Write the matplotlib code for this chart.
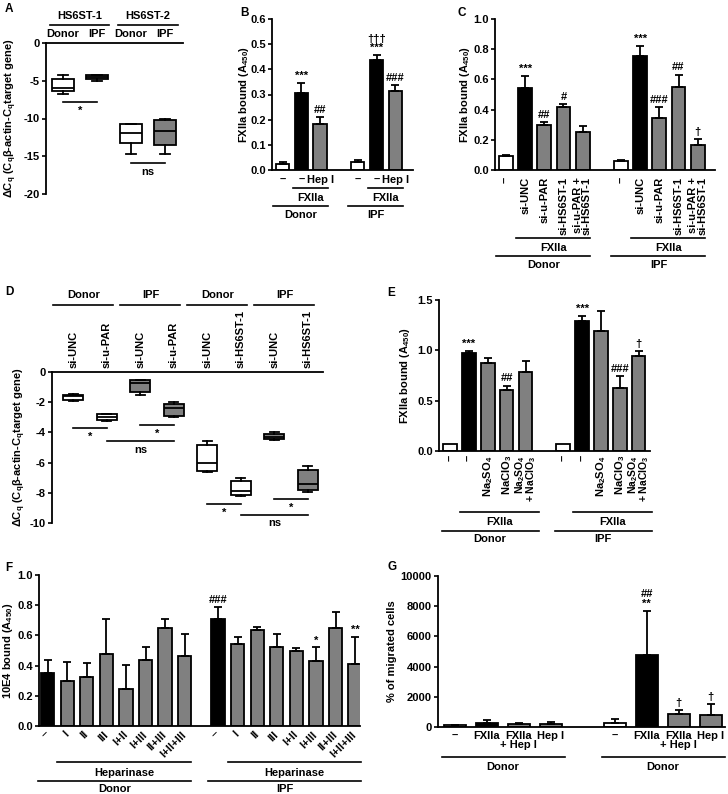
import numpy as np
import matplotlib
matplotlib.use('Agg')
import matplotlib.pyplot as plt

plt.rcParams.update({
    'font.family': ['Liberation Sans', 'DejaVu Sans'],
    'font.weight': 'bold',
    'axes.labelweight': 'bold',
    'font.size': 8,
    'axes.linewidth': 1.3,
    'axes.unicode_minus': False,
    'mathtext.fontset': 'custom',
    'mathtext.rm': 'Liberation Sans:bold',
    'mathtext.it': 'Liberation Sans:bold',
    'mathtext.bf': 'Liberation Sans:bold',
    'mathtext.default': 'rm',
})

# ---- data ----
# A: box plots, HS6ST-1 / HS6ST-2 expression
a_groups = ['HS6ST-1', 'HS6ST-2']
a_labels = ['Donor', 'IPF', 'Donor', 'IPF']
a_lo = [-6.8, -5.0, -14.7, -14.7]
a_q1 = [-6.3, -4.8, -13.3, -13.5]
a_med = [-5.9, -4.5, -11.9, -11.6]
a_q3 = [-4.8, -4.25, -10.75, -10.2]
a_hi = [-4.3, -4.2, -10.75, -10.0]

# B: FXIIa bound, Hep I
b_labels = ['–', '–', 'Hep I', '–', '–', 'Hep I']
b_vals = [0.024, 0.305, 0.184, 0.030, 0.437, 0.312]
b_errs = [0.006, 0.040, 0.027, 0.008, 0.019, 0.025]
b_marks = ['', '***', '##', '', '†††\n***', '###']

# C: FXIIa bound, siRNA
c_labels = ['–', 'si-UNC', 'si-u-PAR', 'si-HS6ST-1', 'si-u-PAR +\nsi-HS6ST-1'] * 2
c_vals = [0.09, 0.54, 0.30, 0.414, 0.25, 0.06, 0.753, 0.343, 0.548, 0.167]
c_errs = [0.007, 0.08, 0.02, 0.021, 0.04, 0.004, 0.067, 0.073, 0.084, 0.038]
c_marks = ['', '***', '##', '#', '', '', '***', '###', '##', '†']

# D: box plots, knock-down efficiency
d_groups = ['Donor', 'IPF', 'Donor', 'IPF']
d_labels = ['si-UNC', 'si-u-PAR', 'si-UNC', 'si-u-PAR',
            'si-UNC', 'si-HS6ST-1', 'si-UNC', 'si-HS6ST-1']
d_lo = [-1.9, -3.25, -1.5, -2.97, -6.65, -8.2, -4.5, -7.95]
d_q1 = [-1.85, -3.2, -1.35, -2.9, -6.55, -8.15, -4.45, -7.8]
d_med = [-1.6, -2.95, -0.75, -2.4, -6.0, -7.85, -4.3, -7.45]
d_q3 = [-1.5, -2.8, -0.55, -2.1, -4.85, -7.2, -4.1, -6.5]
d_hi = [-1.45, -2.75, -0.5, -2.0, -4.55, -7.0, -4.0, -6.2]

# E: FXIIa bound, sulfation inhibitors
e_labels = ['–', '–', 'Na$_2$SO$_4$', 'NaClO$_3$', 'Na$_2$SO$_4$\n+ NaClO$_3$'] * 2
e_vals = [0.07, 0.97, 0.87, 0.61, 0.78, 0.07, 1.29, 1.19, 0.63, 0.94]
e_errs = [0.0, 0.02, 0.05, 0.04, 0.11, 0.0, 0.05, 0.20, 0.115, 0.05]
e_marks = ['', '***', '', '##', '', '', '***', '', '###', '†']

# F: 10E4 bound, heparinases
f_labels = ['–', 'I', 'II', 'III', 'I+II', 'I+III', 'II+III', 'I+II+III']
f_donor = [0.35, 0.30, 0.327, 0.48, 0.245, 0.44, 0.65, 0.466]
f_donor_err = [0.09, 0.124, 0.093, 0.23, 0.159, 0.085, 0.06, 0.141]
f_ipf = [0.71, 0.54, 0.636, 0.523, 0.495, 0.43, 0.652, 0.41]
f_ipf_err = [0.08, 0.05, 0.022, 0.084, 0.022, 0.09, 0.103, 0.177]
f_ipf_marks = ['###', '', '', '', '', '*', '', '**']

# G: migration
g_labels = ['–', 'FXIIa', 'FXIIa\n+ Hep I', 'Hep I']
g_first = [100, 270, 180, 220]
g_first_err = [40, 170, 60, 120]
g_second = [290, 4800, 860, 820]
g_second_err = [220, 2900, 240, 710]
g_second_marks = ['', '##\n**', '†', '†']

# ---- layout helpers (pixel boxes) ----
W, H = 728, 794
fig = plt.figure(figsize=(W / 100, H / 100), dpi=100)
px = {}


def make_ax(x0, y0, x1, y1):
    ax = fig.add_axes([x0 / W, 1 - y1 / H, (x1 - x0) / W, (y1 - y0) / H])
    px[ax] = (x0, y0, x1, y1)
    return ax


def yfrac(ax, ypx):
    x0, y0, x1, y1 = px[ax]
    return (y1 - ypx) / (y1 - y0)


def ylabel_at(ax, text, xpx):
    # xpx: right edge of the rotated label, in figure pixels
    x0, y0, x1, y1 = px[ax]
    ax.set_ylabel(text)
    ax.yaxis.set_label_coords((xpx - x0) / (x1 - x0), 0.5)


def gline(ax, x0, x1, ypx):
    y = yfrac(ax, ypx)
    ax.plot([x0, x1], [y, y], transform=ax.get_xaxis_transform(),
            color='k', lw=1.2, clip_on=False)


def gtext(ax, x, ypx, s):
    ax.text(x, yfrac(ax, ypx), s, transform=ax.get_xaxis_transform(),
            ha='center', va='center')


def style(ax):
    for s in ['top', 'right']:
        ax.spines[s].set_visible(False)
    ax.tick_params(axis='x', length=0)
    ax.tick_params(axis='y', length=3, width=1.2, pad=1.5)


def bars(ax, pos, vals, errs, fills, width, marks=None):
    pos = np.asarray(pos, float)
    vals = np.asarray(vals, float)
    errs = np.asarray(errs, float)
    ax.bar(pos, vals, width=width, color=fills, edgecolor='k', linewidth=1.3, zorder=2)
    m = errs > 0
    ax.errorbar(pos[m], vals[m], yerr=[np.zeros(m.sum()), errs[m]], fmt='none',
                ecolor='k', elinewidth=1.3, capsize=3, capthick=1.3, zorder=3)
    if marks:
        for p, v, e, t in zip(pos, vals, errs, marks):
            if t:
                ax.annotate(t, (p, v + e), xytext=(0, 1.5), textcoords='offset points',
                            ha='center', va='bottom', linespacing=0.95)


def boxes(ax, pos, lo, q1, med, q3, hi, fills, width):
    stats = [dict(whislo=a, q1=b, med=c, q3=d, whishi=e, fliers=[])
             for a, b, c, d, e in zip(lo, q1, med, q3, hi)]
    bp = ax.bxp(stats, positions=pos, widths=width, patch_artist=True,
                showfliers=False, capwidths=width * 0.45,
                boxprops=dict(lw=1.3, edgecolor='k'),
                medianprops=dict(color='k', lw=1.3),
                whiskerprops=dict(lw=1.3), capprops=dict(lw=1.3))
    for p, c in zip(bp['boxes'], fills):
        p.set_facecolor(c)


def sig(ax, x0, x1, y, text, drop):
    ax.plot([x0, x1], [y, y], color='k', lw=1.2, clip_on=False)
    ax.text((x0 + x1) / 2, y - drop, text, ha='center', va='top')


W_, K_, G_ = 'white', 'black', '#808080'
dcq_label = 'ΔC$_q$ (C$_q$β-actin-C$_q$target gene)'
fx_label = 'FXIIa bound (A$_{450}$)'

# ---- A ----
ax = make_ax(46, 43, 183, 194)
pos = np.arange(1, 5)
boxes(ax, pos, a_lo, a_q1, a_med, a_q3, a_hi, [W_, G_, W_, G_], 0.67)
ax.set_xlim(0.5, 4.53)
ax.set_ylim(-20, 0)
ax.spines['bottom'].set_visible(False)
ax.spines['right'].set_visible(False)
ax.xaxis.tick_top()
ax.set_xticks(pos)
ax.set_xticklabels(a_labels)
ax.tick_params(axis='x', length=0, pad=3)
ax.tick_params(axis='y', length=3, width=1.2, pad=1.5)
ax.set_yticks([-20, -15, -10, -5, 0])
ylabel_at(ax, dcq_label, 19)
gline(ax, 0.62, 2.35, 25)
gline(ax, 2.62, 4.38, 25)
gtext(ax, 1.5, 16, a_groups[0])
gtext(ax, 3.5, 16, a_groups[1])
sig(ax, 1, 2, -7.8, '*', 0.5)
sig(ax, 3, 4, -15.9, 'ns', 0.5)

# ---- B ----
ax = make_ax(272, 19, 413, 170)
style(ax)
pos = [0, 1, 2, 4, 5, 6]
bars(ax, pos, b_vals, b_errs, [W_, K_, G_, W_, K_, G_], 0.72, b_marks)
ax.set_xlim(-0.56, 6.94)
ax.set_ylim(0, 0.6)
ax.set_yticks(np.arange(0, 0.61, 0.1))
ax.set_yticklabels([f'{v:.1f}' for v in np.arange(0, 0.61, 0.1)])
ax.set_xticks(pos)
ax.set_xticklabels(b_labels)
ylabel_at(ax, fx_label, 251)
for off, name in [(0, 'Donor'), (4, 'IPF')]:
    gline(ax, off + 0.55, off + 2.4, 188)
    gtext(ax, off + 1.5, 198, 'FXIIa')
    gline(ax, off - 0.5, off + 2.4, 206)
    gtext(ax, off + 0.95, 215, name)

# ---- C ----
ax = make_ax(495, 19, 715, 170)
style(ax)
pos = [0, 1, 2, 3, 4, 6, 7, 8, 9, 10]
bars(ax, pos, c_vals, c_errs, [W_, K_, G_, G_, G_] * 2, 0.72, c_marks)
ax.set_xlim(-0.57, 10.9)
ax.set_ylim(0, 1.0)
ax.set_yticks(np.arange(0, 1.01, 0.2))
ax.set_yticklabels([f'{v:.1f}' for v in np.arange(0, 1.01, 0.2)])
ax.set_xticks(pos)
ax.set_xticklabels(c_labels, rotation=90, va='top', ha='center', multialignment='right')
for t in ax.get_xticklabels():
    t.set_linespacing(0.85)
ax.tick_params(axis='x', pad=5)
ylabel_at(ax, fx_label, 472)
for off, name in [(0, 'Donor'), (6, 'IPF')]:
    gline(ax, off + 0.5, off + 4.4, 238)
    gtext(ax, off + 2.5, 248, 'FXIIa')
    gline(ax, off - 0.5, off + 4.4, 256)
    gtext(ax, off + 1.95, 265, name)

# ---- D ----
ax = make_ax(52, 372, 323, 523)
pos = np.arange(1, 9)
boxes(ax, pos, d_lo, d_q1, d_med, d_q3, d_hi, [W_, W_, G_, G_, W_, W_, G_, G_], 0.6)
ax.set_xlim(0.36, 8.45)
ax.set_ylim(-10, 0)
ax.spines['bottom'].set_visible(False)
ax.spines['right'].set_visible(False)
ax.xaxis.tick_top()
ax.set_xticks(pos)
ax.set_xticklabels(d_labels, rotation=90)
ax.tick_params(axis='x', length=0, pad=3)
ax.tick_params(axis='y', length=3, width=1.2, pad=1.5)
ax.set_yticks(np.arange(-10, 1, 2))
ylabel_at(ax, dcq_label, 28)
for i, name in enumerate(d_groups):
    x0 = 1 + 2 * i
    gline(ax, x0 - 0.61, x0 + 1.18, 305)
    gtext(ax, x0 + 0.3, 295, name)
sig(ax, 1, 2, -3.7, '*', 0.25)
sig(ax, 3, 4, -3.5, '*', 0.25)
sig(ax, 2, 4, -4.6, 'ns', 0.25)
sig(ax, 5, 6, -8.75, '*', 0.25)
sig(ax, 7, 8, -8.4, '*', 0.25)
sig(ax, 6, 8, -9.45, 'ns', 0.25)

# ---- E ----
ax = make_ax(439, 300, 650, 451)
style(ax)
pos = [0, 1, 2, 3, 4, 6, 7, 8, 9, 10]
bars(ax, pos, e_vals, e_errs, [W_, K_, G_, G_, G_] * 2, 0.72, e_marks)
ax.set_xlim(-0.59, 10.6)
ax.set_ylim(0, 1.5)
ax.set_yticks([0, 0.5, 1.0, 1.5])
ax.set_yticklabels(['0.0', '0.5', '1.0', '1.5'])
ax.set_xticks(pos)
ax.set_xticklabels(e_labels, rotation=90, va='top', ha='center', multialignment='right')
for t in ax.get_xticklabels():
    if '\n' in t.get_text():
        t.set_linespacing(0.7)
        t.set_fontsize(7.5)
ax.tick_params(axis='x', pad=3)
ylabel_at(ax, fx_label, 412)
for off, name in [(0, 'Donor'), (6, 'IPF')]:
    gline(ax, off + 0.5, off + 4.7, 512)
    gtext(ax, off + 2.6, 522, 'FXIIa')
    gline(ax, off - 0.45, off + 4.7, 531)
    gtext(ax, off + 2.1, 539, name)

# ---- F ----
ax = make_ax(39, 575, 360, 726)
style(ax)
pos1 = np.arange(8)
pos2 = pos1 + 8.7
bars(ax, pos1, f_donor, f_donor_err, [K_] + [G_] * 7, 0.68)
bars(ax, pos2, f_ipf, f_ipf_err, [K_] + [G_] * 7, 0.68, f_ipf_marks)
ax.set_xlim(-0.44, 15.95)
ax.set_ylim(0, 1.0)
ax.set_yticks(np.arange(0, 1.01, 0.2))
ax.set_yticklabels([f'{v:.1f}' for v in np.arange(0, 1.01, 0.2)])
ax.set_xticks(np.concatenate([pos1, pos2]))
ax.set_xticklabels(f_labels * 2, rotation=45, ha='right', va='center',
                   rotation_mode='anchor')
ax.tick_params(axis='x', pad=5)
ylabel_at(ax, '10E4 bound (A$_{450}$)', 15)
for off, name in [(0, 'Donor'), (8.7, 'IPF')]:
    gline(ax, off + 0.5, off + 7.3, 762)
    gtext(ax, off + 3.9, 773, 'Heparinase')
    gline(ax, off - 0.5, off + 7.3, 781)
    gtext(ax, off + 3.4, 789, name)

# ---- G ----
ax = make_ax(438, 576, 725, 727)
style(ax)
pos1 = np.arange(4)
pos2 = pos1 + 5
bars(ax, pos1, g_first, g_first_err, [W_, K_, G_, G_], 0.69)
bars(ax, pos2, g_second, g_second_err, [W_, K_, G_, G_], 0.69, g_second_marks)
ax.set_xlim(-0.52, 8.45)
ax.set_ylim(0, 10000)
ax.set_yticks(np.arange(0, 10001, 2000))
ax.set_xticks(np.concatenate([pos1, pos2]))
ax.set_xticklabels(g_labels * 2, linespacing=0.9)
ax.tick_params(axis='x', pad=3)
ylabel_at(ax, '% of migrated cells', 397)
for off in [0, 5]:
    gline(ax, off - 0.4, off + 3.45, 757)
    gtext(ax, off + 1.5, 767, 'Donor')

# panel letters
for s, x, y in [('A', 5, 9), ('B', 240, 13), ('C', 458, 13), ('D', 5, 292),
                ('E', 387, 293), ('F', 5, 568), ('G', 387, 567)]:
    fig.text(x / W, 1 - y / H, s, fontsize=8.5, fontweight='bold', va='center')

fig.savefig('out.png', dpi=100)
